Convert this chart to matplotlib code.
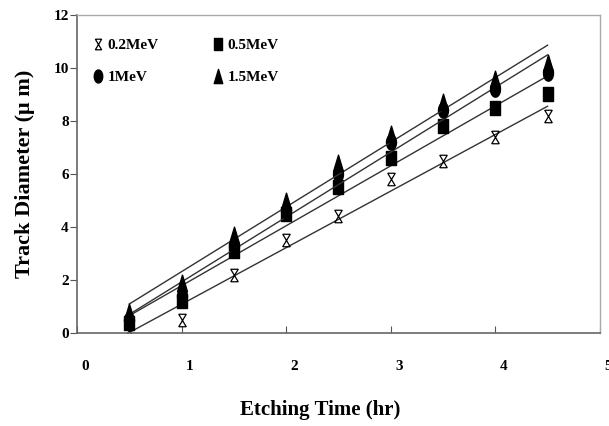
import numpy as np
import matplotlib
matplotlib.use("Agg")
import matplotlib.pyplot as plt
from matplotlib.path import Path
from matplotlib.transforms import ScaledTranslation

# Dati
t = [0.5, 1.0, 1.5, 2.0, 2.5, 3.0, 3.5, 4.0, 4.5]
d_02 = [0.1, 0.5, 2.2, 3.5, 4.4, 5.8, 6.5, 7.4, 8.2]
d_05 = [0.4, 1.2, 3.1, 4.5, 5.5, 6.6, 7.8, 8.5, 9.0]
d_1 = [0.5, 1.4, 3.3, 4.6, 6.0, 7.2, 8.4, 9.2, 9.8]
d_15 = [0.8, 1.9, 3.7, 5.0, 6.4, 7.5, 8.7, 9.6, 10.2]
labels = ["0.2MeV", "0.5MeV", "1MeV", "1.5MeV"]

# marker allungati in verticale, come nella scansione
xbar = Path([(-0.6, -1), (0.6, 1), (-0.6, 1), (0.6, -1), (-0.6, 1), (0.6, 1), (-0.6, -1), (0.6, -1)],
            [Path.MOVETO, Path.LINETO, Path.MOVETO, Path.LINETO,
             Path.MOVETO, Path.LINETO, Path.MOVETO, Path.LINETO])
quad = Path([(-0.7, -1), (0.7, -1), (0.7, 1), (-0.7, 1), (-0.7, -1)], closed=True)
th = np.linspace(0, 2 * np.pi, 40)
ell = Path(np.column_stack([0.65 * np.cos(th), np.sin(th)]), closed=True)
tri = Path([(0, 1), (0.6, -1), (-0.6, -1), (0, 1)], closed=True)

plt.rcParams["font.family"] = "Liberation Serif"
plt.rcParams["font.weight"] = "bold"

fig = plt.figure(figsize=(6.09, 4.26), dpi=100)
ax = fig.add_axes([0.1264, 0.218, 0.8586, 0.747])

series = [d_02, d_05, d_1, d_15]
markers = [xbar, quad, ell, tri]
sizes = [9, 10, 11, 12]
widths = [0.9, 1.0, 1.0, 1.0]
handles = []
for y, m, s, w, lab in zip(series, markers, sizes, widths, labels):
    p = np.polyfit(t, y, 1)
    xx = np.array([t[0], t[-1]])
    ax.plot(xx, np.polyval(p, xx), color="#333333", lw=1.0)
    h, = ax.plot(t, y, ls="none", marker=m, ms=s, color="black",
                 mew=w, label=lab)
    handles.append(h)

ax.legend([handles[0], handles[2], handles[1], handles[3]],
          [labels[0], labels[2], labels[1], labels[3]],
          ncol=2, frameon=False, loc="upper left", bbox_to_anchor=(0.0, 0.97),
          fontsize=11, labelspacing=1.2, columnspacing=3.4, handletextpad=0.1,
          handlelength=1.0, markerscale=0.85)

ax.set_xlim(0, 5)
ax.set_ylim(0, 12)
ax.set_xticks([0, 1, 2, 3, 4, 5])
ax.set_yticks([0, 2, 4, 6, 8, 10, 12])
ax.tick_params(axis="x", direction="in", length=5, labelsize=11, pad=19, color="#555555")
ax.tick_params(axis="y", direction="out", length=5, labelsize=11, pad=1, color="#555555")
for lab in ax.get_xticklabels():
    lab.set_transform(lab.get_transform() + ScaledTranslation(0.08, 0, fig.dpi_scale_trans))
for sp in ["left", "bottom"]:
    ax.spines[sp].set_color("#666666")
    ax.spines[sp].set_linewidth(1.2)
for sp in ["top", "right"]:
    ax.spines[sp].set_color("#aaaaaa")
    ax.spines[sp].set_linewidth(1.0)

ax.set_xlabel("Etching Time (hr)", fontsize=15, fontweight="bold", labelpad=20)
ax.xaxis.label.set_x(0.465)
ax.set_ylabel("Track Diameter (\u03bc m)", fontsize=16, fontweight="bold", labelpad=13)

fig.savefig("out.png", dpi=100)
